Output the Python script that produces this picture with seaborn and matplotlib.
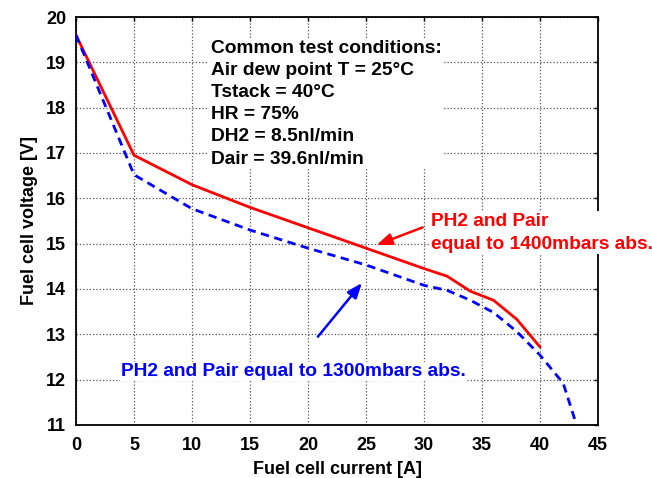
import pandas as pd
import matplotlib
matplotlib.use("Agg")
import matplotlib.pyplot as plt
import seaborn as sns

# polarisation curves
current_1400 = [0, 5, 10, 15, 20, 25, 30, 32, 34, 36, 38, 40]
voltage_1400 = [19.6, 16.95, 16.3, 15.8, 15.35, 14.9, 14.45, 14.28, 13.95, 13.75, 13.33, 12.72]

current_1300 = [0, 5, 10, 15, 20, 25, 30, 32, 34, 36, 38, 40, 42, 43]
voltage_1300 = [19.6, 16.52, 15.77, 15.3, 14.9, 14.53, 14.08, 13.97, 13.75, 13.48, 13.06, 12.54, 11.92, 11.12]

x_ticks = [0, 5, 10, 15, 20, 25, 30, 35, 40, 45]
y_ticks = [11, 12, 13, 14, 15, 16, 17, 18, 19, 20]

conditions = ["Common test conditions:",
              "Air dew point T = 25\u00b0C",
              "Tstack = 40\u00b0C",
              "HR = 75%",
              "DH2 = 8.5nl/min",
              "Dair = 39.6nl/min"]

df = pd.concat([
    pd.DataFrame({"current": current_1400, "voltage": voltage_1400, "pressure": "1400"}),
    pd.DataFrame({"current": current_1300, "voltage": voltage_1300, "pressure": "1300"}),
])

sns.set_style("white", {"text.color": "black", "axes.labelcolor": "black",
                        "xtick.color": "black", "ytick.color": "black"})
plt.rcParams["font.family"] = ["Liberation Sans", "DejaVu Sans"]
plt.rcParams["font.weight"] = "bold"

fig = plt.figure(figsize=(6.52, 4.78), dpi=100)
ax = fig.add_axes([0.1166, 0.111, 0.8006, 0.8534])

sns.lineplot(data=df, x="current", y="voltage", hue="pressure", style="pressure",
             palette={"1400": "#ff0000", "1300": "#0000ff"},
             dashes={"1400": "", "1300": (3, 2)},
             linewidth=2, sort=False, estimator=None, legend=False, ax=ax, zorder=4)

ax.set_xlim(0, 45)
ax.set_ylim(11, 20)
ax.set_xticks(x_ticks)
ax.set_yticks(y_ticks)
ax.grid(True, linestyle=":", color="#555555", linewidth=0.9)
ax.tick_params(direction="in", length=3, width=1, top=True, right=True,
               labelsize=13, colors="black")
ax.tick_params(axis="x", pad=9)
ax.tick_params(axis="y", pad=7)
for lab in ax.get_xticklabels() + ax.get_yticklabels():
    lab.set_fontweight("bold")
for sp in ax.spines.values():
    sp.set_visible(True)
    sp.set_color("black")
    sp.set_linewidth(1.3)

ax.set_xlabel("Fuel cell current [A]", fontsize=13, fontweight="bold", labelpad=5, color="black")
ax.set_ylabel("Fuel cell voltage [V]", fontsize=13, fontweight="bold", labelpad=6, color="black")

box = dict(facecolor="white", edgecolor="none", pad=1)

# test conditions block
ax.text(11.6, 19.5, "\n".join(conditions), fontsize=13.8, fontweight="bold",
        color="black", va="top", ha="left", linespacing=1.4, bbox=box, zorder=3)

# 1400 mbar label
ax.text(30.6, 15.24, "PH2 and Pair\nequal to 1400mbars abs.", color="#ff0000",
        fontsize=13.8, fontweight="bold", va="center", ha="left",
        linespacing=1.45, bbox=box, clip_on=False, zorder=3)
ax.annotate("", xy=(25.7, 14.95), xytext=(30.1, 15.38),
            arrowprops=dict(arrowstyle="-|>,head_length=0.9,head_width=0.35",
                            color="#ff0000", lw=1.8), zorder=5)

# 1300 mbar label
ax.text(3.9, 12.18, "PH2 and Pair equal to 1300mbars abs.", color="#0000ff",
        fontsize=13.8, fontweight="bold", va="center", ha="left", bbox=box, zorder=3)
ax.annotate("", xy=(24.8, 14.18), xytext=(20.7, 12.9),
            arrowprops=dict(arrowstyle="-|>,head_length=0.9,head_width=0.35",
                            color="#0000ff", lw=1.8), zorder=5)

fig.savefig("out.png", dpi=100)
